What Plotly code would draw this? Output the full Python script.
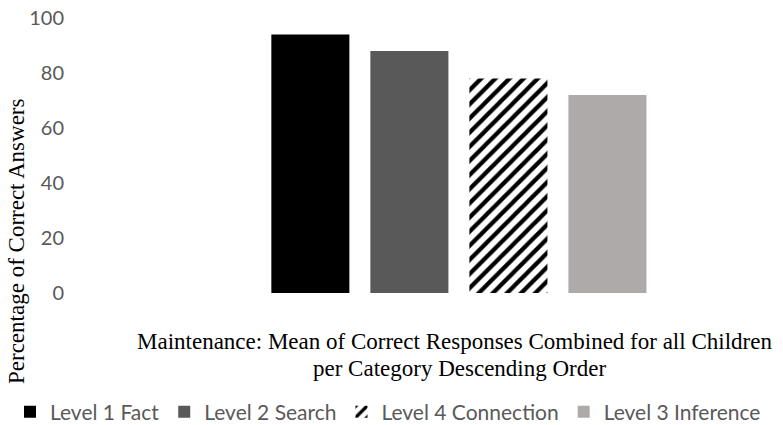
import plotly.graph_objects as go

# Mean percentage of correct answers per question level (maintenance phase)
category = ["Maintenance"]
levels = ["Level 1 Fact", "Level 2 Search", "Level 4 Connection", "Level 3 Inference"]
values = [94, 88, 78, 72]
y_ticks = [0, 20, 40, 60, 80, 100]

fill_colors = ["#000000", "#595959", "#ffffff", "#aeaaaa"]
patterns = ["", "", "/", ""]

W, H = 783, 425
L, R, T, B = 75, 10, 18, 132
plot_w = W - L - R
plot_h = H - T - B


def px_x(px):
    return (px - L) / plot_w


def px_y(py):
    return (H - B - py) / plot_h


fig = go.Figure()
for name, val, col, pat in zip(levels, values, fill_colors, patterns):
    marker = dict(color=col, line=dict(width=0))
    if pat:
        marker["pattern"] = dict(shape=pat, fgcolor="#000000", bgcolor="#ffffff",
                                 size=10, solidity=0.42, fillmode="replace")
    fig.add_trace(go.Bar(x=category, y=[val], name=name, marker=marker))

sans = "Lato, 'Open Sans', sans-serif"
serif = "'Liberation Serif', 'Times New Roman', serif"

fig.update_layout(
    width=W, height=H,
    margin=dict(l=L, r=R, t=T, b=B, pad=0, autoexpand=False),
    paper_bgcolor="white", plot_bgcolor="white",
    barmode="group", bargap=0.319, bargroupgap=0.212,
    showlegend=True,
    legend=dict(orientation="h", x=px_x(10), xanchor="left",
                y=px_y(412), yanchor="middle",
                font=dict(family=sans, size=21, color="#595959"),
                itemwidth=30, traceorder="normal"),
    xaxis=dict(range=[-0.660, 0.540], showticklabels=False, showline=False,
               showgrid=False, zeroline=False, ticks=""),
    yaxis=dict(range=[0, 100], tickvals=y_ticks, showgrid=False, zeroline=False,
               showline=False, ticks="", ticklabelstandoff=10,
               tickfont=dict(family=sans, size=20, color="#595959")),
    annotations=[
        dict(text="Percentage of Correct Answers", textangle=-90,
             x=px_x(16), y=px_y(241), xref="paper", yref="paper",
             xanchor="center", yanchor="middle", showarrow=False,
             font=dict(family=serif, size=23, color="#000000")),
        dict(text="Maintenance: Mean of Correct Responses Combined for all Children",
             x=px_x(454), y=px_y(341), xref="paper", yref="paper",
             xanchor="center", yanchor="middle", showarrow=False,
             font=dict(family=serif, size=23, color="#000000")),
        dict(text="per Category Descending Order",
             x=px_x(459), y=px_y(368), xref="paper", yref="paper",
             xanchor="center", yanchor="middle", showarrow=False,
             font=dict(family=serif, size=23, color="#000000")),
    ],
)

fig.write_html("out.html")
